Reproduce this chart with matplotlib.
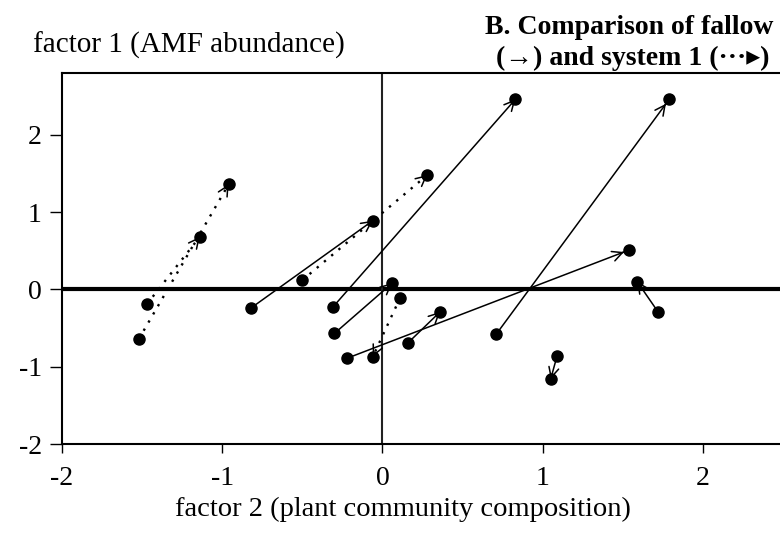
import matplotlib
matplotlib.use("Agg")
import matplotlib.pyplot as plt

plt.rcParams['font.family'] = ['Liberation Serif', 'DejaVu Sans']

# fallow (solid arrows): start -> end
fallow_x0 = [-0.82, -0.31, -0.30, -0.22, 0.16, 0.71, 1.09, 1.72]
fallow_y0 = [-0.24, -0.23, -0.57, -0.89, -0.69, -0.58, -0.86, -0.29]
fallow_x1 = [-0.06, 0.83, 0.06, 1.54, 0.36, 1.79, 1.05, 1.59]
fallow_y1 = [0.89, 2.46, 0.08, 0.51, -0.29, 2.46, -1.16, 0.10]

# system 1 (dotted arrows): start -> end
sys1_x0 = [-0.50, 0.11, -1.52, -1.47]
sys1_y0 = [0.12, -0.11, -0.64, -0.19]
sys1_x1 = [0.28, -0.06, -0.96, -1.14]
sys1_y1 = [1.48, -0.87, 1.36, 0.68]

xticks = [-2, -1, 0, 1, 2]
yticks = [-2, -1, 0, 1, 2]

fig = plt.figure(figsize=(7.8, 5.37), dpi=100)
ax = fig.add_axes([62 / 780, 1 - 444 / 537, 721 / 780, 371 / 537])
ax.set_xlim(-2, 2.5)
ax.set_ylim(-2, 2.8)

ax.axhline(0, color="black", lw=3, zorder=1)
ax.axvline(0, color="#222222", lw=1.5, zorder=1)


def draw_arrow(x0, y0, x1, y1, dotted):
    if dotted:
        ax.plot([x0, x1], [y0, y1], color="black", lw=1.7,
                linestyle=(0, (1, 3)), zorder=2)
    else:
        ax.plot([x0, x1], [y0, y1], color="black", lw=1.1, zorder=2)
    # arrow head only, solid
    xs = x1 - 0.02 * (x1 - x0)
    ys = y1 - 0.02 * (y1 - y0)
    ax.annotate("", xy=(x1, y1), xytext=(xs, ys),
                arrowprops=dict(arrowstyle="->", color="black", lw=1.1,
                                shrinkA=0, shrinkB=4, mutation_scale=18),
                zorder=3)
    ax.plot([x0, x1], [y0, y1], "o", color="black", markersize=8, zorder=4)


for i in range(len(fallow_x0)):
    draw_arrow(fallow_x0[i], fallow_y0[i], fallow_x1[i], fallow_y1[i], False)
for i in range(len(sys1_x0)):
    draw_arrow(sys1_x0[i], sys1_y0[i], sys1_x1[i], sys1_y1[i], True)

ax.set_xticks(xticks)
ax.set_yticks(yticks)
ax.set_xticklabels([str(t) for t in xticks], fontsize=20)
ax.set_yticklabels([str(t) for t in yticks], fontsize=20)
ax.tick_params(axis="y", direction="out", length=8.5, width=1, pad=6)
ax.tick_params(axis="x", direction="out", length=6.5, width=1, pad=9)
for s in ax.spines.values():
    s.set_linewidth(1.5)

fig.text(403 / 780, 1 - 509 / 537, "factor 2 (plant community composition)",
         fontsize=20.5, ha="center", va="center")
fig.text(33 / 780, 1 - 45 / 537, "factor 1 (AMF abundance)",
         fontsize=21, ha="left", va="center")
fig.text(629 / 780, 1 - 28 / 537, "B. Comparison of fallow",
         fontsize=20, fontweight="bold", ha="center", va="center")
fig.text(633 / 780, 1 - 58 / 537, "(\u2192) and system 1 (\u00b7\u00b7\u00b7\u25b8)",
         fontsize=20, fontweight="bold", ha="center", va="center")

fig.savefig("out.png", dpi=100)
